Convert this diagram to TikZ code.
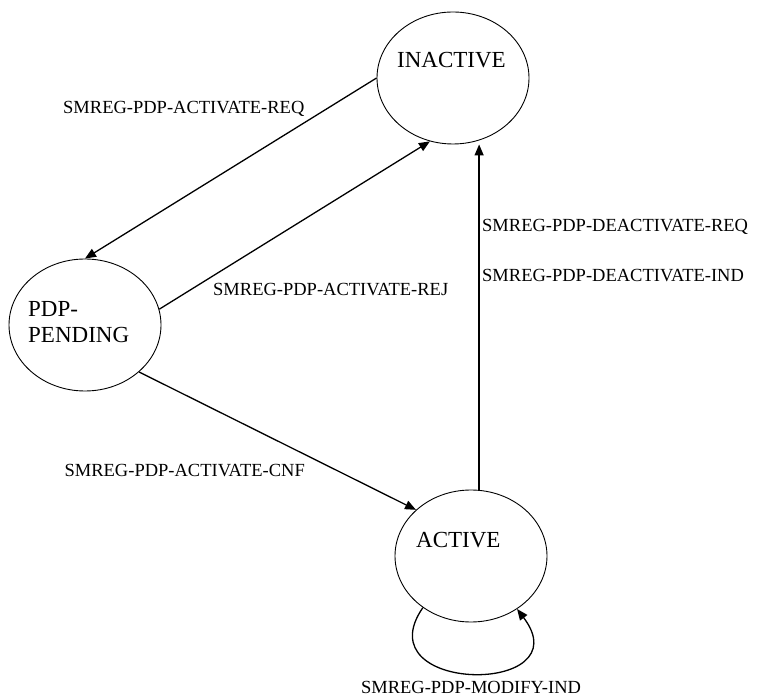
\documentclass[tikz,border=0pt]{standalone}
\usepackage{fontspec}
\setmainfont{Liberation Serif}
\usetikzlibrary{shapes.geometric,arrows.meta}
\begin{document}
\begin{tikzpicture}[x=1pt,y=1pt,
  state/.style={draw,ellipse,line width=0.9pt,minimum width=152pt,minimum height=132pt,inner sep=0pt},
  stext/.style={anchor=base west,inner sep=0pt,font=\fontsize{23}{26}\selectfont},
  lbl/.style={anchor=base west,inner sep=0pt,font=\fontsize{18.5}{22}\selectfont},
  conn/.style={line width=1.3pt,-{Triangle[length=11pt,width=9pt]}}]
\useasboundingbox (0,0) rectangle (757,696);
\node[state] (inactive) at (453,618) {};
\node[state] (pdp) at (85,371) {};
\node[state] (active) at (471,140) {};
\node[stext] (tinactive) at (397,628) {INACTIVE};
\node[stext] (tpdp1) at (28,379) {PDP-};
\node[stext] (tpdp2) at (28,353) {PENDING};
\node[stext] (tactive) at (416,148) {ACTIVE};
\node[lbl] (lreq) at (63,582) {SMREG-PDP-ACTIVATE-REQ};
\node[lbl] (lrej) at (213,400) {SMREG-PDP-ACTIVATE-REJ};
\node[lbl,anchor=base east] (lcnf) at (305,219) {SMREG-PDP-ACTIVATE-CNF};
\node[lbl] (ldreq) at (482,464) {SMREG-PDP-DEACTIVATE-REQ};
\node[lbl] (ldind) at (482,414) {SMREG-PDP-DEACTIVATE-IND};
\node[lbl,anchor=base] (lmod) at (471,3) {SMREG-PDP-MODIFY-IND};
\draw[conn] (inactive.west) -- (pdp.north);
\draw[conn] (pdp.12) -- (inactive.250);
\draw[conn] (pdp.319) -- (active.140);
\draw[conn] (active.83) -- (active.83 |- inactive.south);
\draw[conn] (active.227) .. controls +(-60,-87) and +(66,-87) .. (active.311);
\end{tikzpicture}
\end{document}
